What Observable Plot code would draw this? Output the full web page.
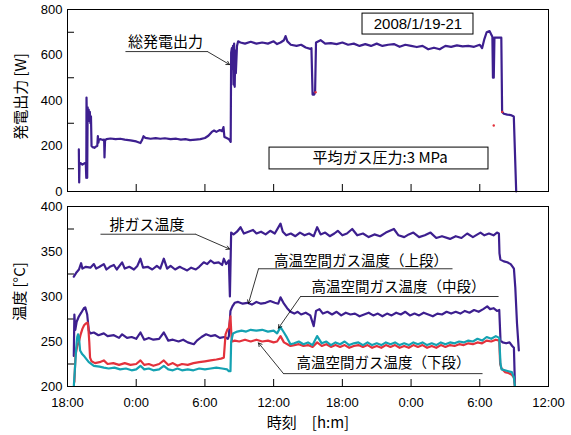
<!DOCTYPE html>
<html>
<head>
<meta charset="utf-8">
<script src="https://cdn.jsdelivr.net/npm/d3@7"></script>
<script src="https://cdn.jsdelivr.net/npm/@observablehq/plot@0.6"></script>
<style>
  body { margin: 0; background: #fff; }
  #chart { position: relative; width: 571px; height: 435px; background: #fff; }
  #topPanel, #bottomPanel { position: absolute; left: 0; }
  #topPanel { top: 0; }
  #bottomPanel { top: 197px; }
</style>
</head>
<body>
<div id="chart"><div id="topPanel"></div><div id="bottomPanel"></div></div>
<script>
// time axis: hours since 18:00 on 2008/1/19
const tickHours = [0, 6, 12, 18, 24, 30, 36, 42];
const tickLabels = ["18:00", "0:00", "6:00", "12:00", "18:00", "0:00", "6:00", "12:00"];
const innerTicks = [6, 12, 18, 24, 30, 36];
const powerTicks = [0, 200, 400, 600, 800];
const powerMinor = [100, 300, 500, 700];
const tempTicks = [200, 250, 300, 350, 400];
const tempMinor = [225, 275, 325, 375];

// 総発電出力 [W]
const power = [[0.99,185],[1.02,40],[1.05,120],[1.14,125],[1.3,118],[1.5,125],[1.6,120],[1.64,60],[1.66,413],[1.70,300],[1.72,60],[1.76,370],[1.8,320],[1.85,360],[1.9,310],[1.95,350],[2.0,300],[2.05,330],[2.1,200],[2.2,195],[2.35,192],[2.5,198],[2.6,200],[2.65,243],[2.7,215],[2.75,228],[2.9,230],[3.1,226],[3.2,228],[3.23,150],[3.28,225],[3.4,230],[3.75,233],[4.2,230],[4.6,232],[5.0,228],[5.5,225],[6.0,220],[6.37,213],[6.5,225],[6.64,243],[6.8,236],[7.25,232],[7.7,235],[8.1,232],[8.5,234],[9.0,230],[9.5,232],[9.9,228],[10.3,230],[10.7,226],[11.2,228],[11.6,230],[12.0,235],[12.3,245],[12.6,262],[12.8,268],[13.0,262],[13.3,270],[13.5,265],[13.62,283],[13.7,240],[13.9,235],[14.1,230],[14.25,218],[14.29,610],[14.35,630],[14.4,540],[14.45,640],[14.5,470],[14.55,650],[14.6,460],[14.65,620],[14.7,520],[14.8,640],[14.9,660],[15.1,655],[15.5,650],[16.0,658],[16.5,650],[17.0,655],[17.5,650],[18.0,660],[18.3,648],[18.6,655],[18.9,665],[19.04,683],[19.2,660],[19.5,645],[20.0,640],[20.4,645],[20.8,633],[21.2,627],[21.3,630],[21.4,426],[21.55,426],[21.62,440],[21.7,655],[22.1,665],[22.5,650],[23.0,652],[23.5,648],[24.0,655],[24.5,645],[25.0,650],[25.5,640],[26.0,648],[26.5,640],[27.0,650],[27.5,640],[28.0,645],[28.5,648],[29.0,636],[29.5,645],[30.0,640],[30.5,635],[31.0,640],[31.5,625],[32.0,632],[32.5,625],[33.0,640],[33.5,636],[34.0,642],[34.5,638],[35.0,640],[35.5,636],[36.0,645],[36.2,630],[36.4,670],[36.6,700],[36.85,705],[37.0,690],[37.1,680],[37.15,500],[37.22,500],[37.28,676],[37.5,676],[37.88,676],[37.95,350],[38.1,342],[38.4,338],[38.7,336],[38.97,330],[39.18,0]];
const powerRed = [[21.66,436],[37.22,290],[37.96,350]];

// 排ガス温度 [°C]
const exhaust = [[0.55,322],[0.65,324],[0.8,327],[1.0,330],[1.19,337],[1.3,331],[1.6,333],[2.0,332],[2.3,336],[2.5,331],[2.8,333],[3.17,336],[3.4,330],[3.7,333],[4.05,335],[4.3,330],[4.77,338],[5.0,331],[5.4,333],[5.8,330],[6.1,334],[6.37,342],[6.6,332],[7.0,333],[7.4,330],[7.8,334],[8.1,331],[8.41,342],[8.7,331],[9.0,334],[9.4,330],[9.8,333],[10.1,331],[10.45,329],[10.8,332],[11.2,330],[11.5,333],[11.9,338],[12.2,336],[12.5,340],[12.8,337],[13.2,338],[13.5,335],[13.65,342],[13.85,336],[14.09,340],[14.18,300],[14.29,371],[14.5,369],[14.8,372],[15.11,377],[15.4,370],[15.8,372],[16.2,374],[16.5,370],[16.9,372],[17.3,369],[17.7,373],[18.1,370],[18.6,381],[18.8,372],[19.1,368],[19.5,370],[19.9,367],[20.3,371],[20.7,368],[21.1,370],[21.5,367],[21.8,377],[22.1,369],[22.5,371],[22.9,367],[23.3,370],[23.6,373],[24.0,368],[24.4,370],[24.86,375],[25.3,368],[25.8,370],[26.3,366],[26.8,369],[27.3,367],[27.8,371],[28.5,375],[28.9,368],[29.4,366],[29.8,369],[30.2,371],[30.7,366],[31.2,368],[31.7,371],[32.2,365],[32.7,367],[33.4,364],[33.9,367],[34.4,365],[34.9,370],[35.4,366],[35.8,369],[36.06,371],[36.4,368],[36.8,370],[37.2,368],[37.5,371],[37.67,370],[37.72,348],[37.8,341],[38.1,339],[38.4,338],[38.7,336],[38.98,331],[39.1,310],[39.25,270],[39.41,240]];

// 高温空間ガス温度（上段）
const upper = [[0.55,234],[0.6,280],[0.68,263],[0.8,272],[1.0,278],[1.2,282],[1.43,287],[1.55,288],[1.72,280],[1.86,262],[2.0,259],[2.3,260],[2.7,257],[3.17,259],[3.5,256],[4.05,257],[4.5,254],[4.77,258],[5.2,254],[5.6,255],[6.0,253],[6.37,260],[6.7,252],[7.1,254],[7.5,252],[8.0,253],[8.41,260],[8.8,251],[9.2,252],[9.7,250],[10.1,252],[10.5,249],[11.03,247],[11.3,251],[11.7,255],[12.1,258],[12.5,256],[12.9,257],[13.3,254],[13.7,255],[14.0,253],[14.09,256],[14.23,284],[14.4,289],[14.6,293],[14.9,294],[15.3,292],[15.7,293],[16.1,291],[16.5,294],[16.9,292],[17.3,293],[17.7,295],[18.1,293],[18.4,292],[18.6,299],[18.9,292],[19.18,287],[19.47,283],[19.8,281],[20.1,283],[20.4,280],[20.8,282],[21.2,279],[21.5,267],[21.7,284],[22.0,286],[22.3,281],[22.7,283],[23.1,280],[23.5,283],[23.9,279],[24.3,282],[24.7,280],[25.1,281],[25.5,278],[25.9,280],[26.3,282],[26.7,279],[27.1,281],[27.5,278],[27.9,281],[28.3,279],[28.7,282],[29.1,280],[29.5,283],[29.9,279],[30.3,281],[30.7,279],[31.1,282],[31.5,280],[31.9,278],[32.3,281],[32.7,280],[33.1,283],[33.5,281],[33.9,283],[34.3,281],[34.7,284],[35.1,282],[35.5,285],[35.9,283],[36.3,286],[36.65,289],[36.9,286],[37.2,287],[37.5,284],[37.7,285],[37.81,251],[38.0,249],[38.3,248],[38.6,249],[38.83,245],[38.98,243],[39.07,200]];

// 高温空間ガス温度（下段）
const lower = [[0.6,205],[0.7,235],[0.85,245],[1.0,250],[1.15,258],[1.3,264],[1.45,268],[1.6,270],[1.75,271],[1.82,265],[1.9,250],[1.97,232],[2.1,228],[2.4,226],[2.8,227],[3.17,229],[3.5,225],[4.0,226],[4.5,224],[5.0,226],[5.5,224],[6.0,225],[6.37,229],[6.7,224],[7.1,225],[7.5,223],[8.0,225],[8.41,229],[8.8,224],[9.2,226],[9.6,223],[10.0,225],[10.5,224],[11.0,226],[11.5,227],[12.0,228],[12.5,229],[13.0,230],[13.4,231],[13.65,232],[13.8,258],[13.95,263],[14.09,265],[14.23,278],[14.32,255],[14.38,250],[14.6,251],[15.0,250],[15.5,252],[16.0,250],[16.5,252],[17.0,250],[17.5,251],[18.0,249],[18.3,250],[18.6,256],[18.9,249],[19.2,247],[19.47,245],[19.8,246],[20.2,247],[20.6,245],[21.0,246],[21.4,244],[21.8,249],[22.2,245],[22.6,247],[23.0,244],[23.4,246],[23.8,244],[24.2,246],[24.6,243],[25.0,245],[25.4,246],[25.8,244],[26.2,246],[26.6,243],[27.0,245],[27.4,243],[27.8,246],[28.2,244],[28.6,246],[29.0,243],[29.4,245],[29.8,243],[30.2,246],[30.6,244],[31.0,246],[31.4,243],[31.8,245],[32.2,243],[32.6,246],[33.0,244],[33.4,246],[33.8,245],[34.2,247],[34.6,246],[35.0,248],[35.4,247],[35.8,249],[36.2,248],[36.6,251],[37.0,250],[37.4,252],[37.7,251],[37.78,225],[37.9,220],[38.2,216],[38.5,215],[38.8,213],[38.98,210],[39.07,200]];

// 高温空間ガス温度（中段）
const middle = [[0.55,200],[0.65,220],[0.76,243],[0.85,255],[0.92,258],[0.99,256],[1.1,240],[1.28,236],[1.5,233],[1.86,227],[2.3,223],[2.8,222],[3.17,221],[3.6,220],[4.1,221],[4.6,219],[5.1,220],[5.6,218],[6.0,219],[6.37,223],[6.7,219],[7.1,220],[7.5,218],[8.0,219],[8.41,223],[8.8,219],[9.2,218],[9.6,220],[10.0,218],[10.5,219],[11.0,218],[11.5,220],[12.0,219],[12.5,220],[13.0,221],[13.5,220],[13.94,219],[14.09,217],[14.23,217],[14.29,250],[14.45,259],[14.82,261],[15.2,262],[15.6,261],[16.0,263],[16.5,262],[17.0,263],[17.5,261],[18.0,262],[18.3,259],[18.6,266],[18.9,260],[19.18,254],[19.47,247],[19.8,248],[20.2,250],[20.6,247],[21.0,249],[21.4,246],[21.8,256],[22.2,248],[22.6,250],[23.0,246],[23.4,249],[23.8,247],[24.2,250],[24.6,246],[25.0,248],[25.4,249],[25.8,246],[26.2,249],[26.6,246],[27.0,248],[27.4,246],[27.8,249],[28.2,247],[28.6,249],[29.0,246],[29.4,248],[29.8,246],[30.2,249],[30.6,247],[31.0,249],[31.4,246],[31.8,248],[32.2,246],[32.6,249],[33.0,247],[33.4,249],[33.8,248],[34.2,250],[34.6,249],[35.0,251],[35.4,250],[35.8,253],[36.2,251],[36.6,255],[37.0,253],[37.4,256],[37.7,254],[37.81,225],[37.9,219],[38.2,218],[38.5,217],[38.8,216],[38.98,210],[39.07,200]];

// annotation texts
const powerLabel = "総発電出力";
const dateLabel = "2008/1/19-21";
const pressureLabel = "平均ガス圧力:3 MPa";
const exhaustLabel = "排ガス温度";
const upperLabel = "高温空間ガス温度（上段）";
const middleLabel = "高温空間ガス温度（中段）";
const lowerLabel = "高温空間ガス温度（下段）";
const yLabelTop = "発電出力 [W]";
const yLabelBottom = "温度 [°C]";
const xLabel = "時刻　[h:m]";

const PURPLE = "#3d1f8f", RED = "#e3323c", TEAL = "#14a2b2";
const JP = "'Noto Sans CJK JP', sans-serif";
const NUM = "'Liberation Sans', Arial, 'Noto Sans CJK JP', sans-serif";
const X = d => d[0], Y = d => d[1];
const lineOpts = (c) => ({x: X, y: Y, stroke: c, strokeWidth: 2.2, strokeLinejoin: "round", curve: "linear"});
const seg = {x1: d => d[0], y1: d => d[1], x2: d => d[2], y2: d => d[3], stroke: "#000", strokeWidth: 0.8};

const topPlot = Plot.plot({
  width: 571, height: 197,
  marginLeft: 67, marginRight: 23, marginTop: 9, marginBottom: 6,
  style: {fontFamily: NUM, fontSize: "13px", color: "#000", background: "#fff", overflow: "visible"},
  x: {domain: [0, 42], axis: null},
  y: {domain: [0, 800], ticks: powerTicks, tickSize: 0, tickPadding: 5, label: null},
  marks: [
    Plot.tickY(powerMinor, {y: d => d, insetRight: 474, stroke: "#000"}),
    Plot.tickX(innerTicks, {x: d => d, insetTop: 175, stroke: "#000"}),
    Plot.rect([{x1: 25.76, x2: 35.45, y1: 690, y2: 782}], {x1: "x1", x2: "x2", y1: "y1", y2: "y2", fill: "#fff", stroke: "#000", strokeWidth: 1}),
    Plot.rect([{x1: 17.64, x2: 36.76, y1: 97, y2: 193}], {x1: "x1", x2: "x2", y1: "y1", y2: "y2", fill: "#fff", stroke: "#000", strokeWidth: 1}),
    Plot.text([dateLabel], {x: 30.6, y: 736, text: d => d, fontSize: 15, fontFamily: NUM, lineAnchor: "middle"}),
    Plot.text([pressureLabel], {x: 27.3, y: 145, text: d => d, fontSize: 15, fontFamily: JP, lineAnchor: "middle"}),
    Plot.line(power, lineOpts(PURPLE)),
    Plot.dot(powerRed, {x: X, y: Y, r: 1.2, fill: RED, stroke: null}),
    Plot.text([powerLabel], {x: 8.56, y: 655, text: d => d, fontSize: 15, fontFamily: JP, lineAnchor: "middle"}),
    Plot.link([[5.06, 615, 12.22, 615]], seg),
    Plot.arrow([[12.22, 615, 14.15, 558]], {...seg, headLength: 7}),
    Plot.text([yLabelTop], {frameAnchor: "left", text: d => d, rotate: -90, dx: -46, dy: -4, textAnchor: "middle", lineAnchor: "middle", fontSize: 15, fontFamily: JP}),
    Plot.frame({stroke: "#000", strokeWidth: 1})
  ]
});
document.getElementById("topPanel").appendChild(topPlot);

const bottomPlot = Plot.plot({
  width: 571, height: 238,
  marginLeft: 67, marginRight: 23, marginTop: 9, marginBottom: 49,
  style: {fontFamily: NUM, fontSize: "13px", color: "#000", background: "#fff", overflow: "visible"},
  x: {domain: [0, 42], ticks: tickHours, tickFormat: d => tickLabels[tickHours.indexOf(d)], tickSize: 0, tickPadding: 11, label: null},
  y: {domain: [200, 400], ticks: tempTicks, tickSize: 0, tickPadding: 5, label: null},
  marks: [
    Plot.tickY(tempMinor, {y: d => d, insetRight: 474, stroke: "#000"}),
    Plot.tickX(innerTicks, {x: d => d, insetTop: 173, stroke: "#000"}),
    Plot.line(exhaust, {...lineOpts(PURPLE), clip: true}),
    Plot.line(upper, {...lineOpts(PURPLE), clip: true}),
    Plot.line(lower, {...lineOpts(RED), clip: true}),
    Plot.line(middle, {...lineOpts(TEAL), clip: true}),
    Plot.text([exhaustLabel], {x: 6.94, y: 379, text: d => d, fontSize: 15, fontFamily: JP, lineAnchor: "middle"}),
    Plot.link([[2.88, 369.2, 11.18, 369.2]], seg),
    Plot.arrow([[11.18, 369.2, 14.15, 352.7]], {...seg, headLength: 7}),
    Plot.text([upperLabel], {x: 25.63, y: 339.6, text: d => d, fontSize: 14.5, fontFamily: JP, lineAnchor: "middle"}),
    Plot.link([[16.68, 330.8, 33.62, 330.8]], seg),
    Plot.arrow([[16.68, 330.8, 15.8, 292.3]], {...seg, headLength: 7}),
    Plot.text([middleLabel], {x: 28.9, y: 309.9, text: d => d, fontSize: 14.5, fontFamily: JP, lineAnchor: "middle"}),
    Plot.link([[20.35, 300, 37.64, 300]], seg),
    Plot.arrow([[20.35, 300, 18.42, 264.8]], {...seg, headLength: 7}),
    Plot.text([lowerLabel], {x: 27.6, y: 225.3, text: d => d, fontSize: 14.5, fontFamily: JP, lineAnchor: "middle"}),
    Plot.link([[18.86, 214.3, 36.24, 214.3]], seg),
    Plot.arrow([[18.86, 214.3, 16.68, 248.4]], {...seg, headLength: 7}),
    Plot.text([yLabelBottom], {frameAnchor: "left", text: d => d, rotate: -90, dx: -47, dy: -5, textAnchor: "middle", lineAnchor: "middle", fontSize: 15, fontFamily: JP}),
    Plot.text([xLabel], {frameAnchor: "bottom", text: d => d, dy: 37, textAnchor: "middle", lineAnchor: "middle", fontSize: 15, fontFamily: JP}),
    Plot.frame({stroke: "#000", strokeWidth: 1})
  ]
});
document.getElementById("bottomPanel").appendChild(bottomPlot);
</script>
</body>
</html>
